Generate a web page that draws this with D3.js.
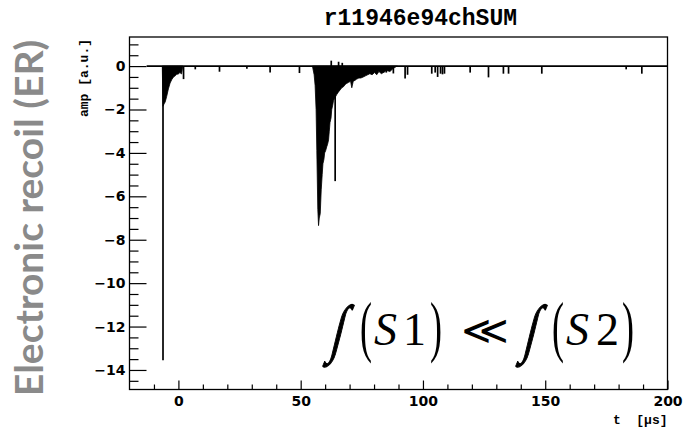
<!DOCTYPE html>
<html>
<head>
<meta charset="utf-8">
<script src="https://cdn.jsdelivr.net/npm/d3@7"></script>
<style>
  html, body { margin: 0; padding: 0; background: #fff; }
  svg { display: block; }
</style>
</head>
<body>
<svg id="chart" width="683" height="427"></svg>
<script>
// ---- data -------------------------------------------------------------
const histTitle = "r11946e94chSUM";
const xTitle = "t  [\u03bcs]";
const yTitle = "amp [a.u.]";
const sideLabel = "Electronic recoil (ER)";

const tDomain = [-20, 200];
const ampDomain = [-14.9, 1.34];
const xMajorTicks = [0, 50, 100, 150, 200];
const yMajorTicks = [0, -2, -4, -6, -8, -10, -12, -14];

// time span covered by the recorded waveform (baseline at 0)
const traceSpan = [-13, 200];

// S1 pulse: envelope of the dense fast-component ringing
const s1T   = [-6.6, -6.3, -5.9, -5.4, -4.8, -4.1, -3.4, -2.7, -2.0, -1.3, -0.7, 0.0, 0.6, 1.3, 1.8];
const s1Amp = [0, -1.85, -1.75, -1.65, -1.4, -1.05, -0.78, -0.62, -0.5, -0.45, -0.38, -0.36, -0.3, -0.36, 0];

// S2 pulse: envelope of the electroluminescence signal
const s2T = [54.8, 55.5, 55.9, 56.3, 56.6, 57.0, 57.3, 57.6, 58.0, 58.4, 58.8, 59.1, 59.5, 59.8,
             60.2, 60.7, 61.0, 61.4, 61.7, 62.0, 62.4, 62.7, 63.1, 63.4, 63.8, 64.3, 64.8, 65.4,
             66.1, 66.8, 67.5, 68.2, 68.8, 69.6, 70.4, 70.9, 71.5, 72.3, 72.9, 73.8, 74.6, 75.6,
             76.5, 77.4, 78.3, 79.2, 80.2, 81.1, 82.0, 83.0, 83.8, 85.0, 86.5, 87.9, 89.5];
const s2Amp = [0, -0.4, -0.9, -2.0, -3.9, -6.6, -7.35, -7.0, -6.8, -5.7, -5.0, -4.5, -4.3, -4.0,
               -3.9, -3.7, -3.6, -3.4, -3.0, -2.6, -2.4, -2.0, -1.8, -1.6, -1.5, -1.4, -1.3, -1.2,
               -1.1, -1.0, -0.95, -0.85, -0.8, -0.75, -0.7, -1.0, -0.7, -0.65, -0.6, -0.55, -0.55, -0.5,
               -0.45, -0.4, -0.35, -0.4, -0.3, -0.4, -0.25, -0.35, -0.3, -0.2, -0.25, -0.1, 0];

// isolated single-photon spikes and narrow needles
const spikeT   = [-6.3, 2.1, 6.9, 16.8, 28.0, 37.5, 49.5, 62.5, 64.1, 65.5, 67.0,
                  83.9, 85.0, 87.9, 92.7, 93.7, 103.6, 105.0, 106.0, 107.2, 108.0, 108.8,
                  119.3, 126.8, 132.9, 135.0, 148.6, 183.1, 189.5];
const spikeAmp = [-13.55, -0.6, -0.15, -0.26, -0.12, -0.3, -0.32, 0.25, -5.3, 0.2, 0.15,
                  -0.3, -0.3, -0.34, -0.57, -0.4, -0.35, -0.3, -0.5, -0.35, -0.38, -0.35,
                  -0.3, -0.52, -0.35, -0.35, -0.35, -0.15, -0.35];

// ---- layout -----------------------------------------------------------
const frame = { left: 129.5, right: 667.5, top: 37, bottom: 389.5 };

const svg = d3.select("#chart");

const x = d3.scaleLinear().domain(tDomain).range([frame.left, frame.right]);
const y = d3.scaleLinear().domain(ampDomain).range([frame.bottom, frame.top]);

// ---- waveform ---------------------------------------------------------
const plot = svg.append("g");

const area = d3.area()
  .x(d => x(d[0]))
  .y0(y(0))
  .y1(d => y(d[1]));

[d3.zip(s1T, s1Amp), d3.zip(s2T, s2Amp)].forEach(pulse => {
  plot.append("path")
    .datum(pulse)
    .attr("d", area)
    .attr("fill", "#000")
    .attr("stroke", "#000")
    .attr("stroke-width", 0.8);
});

plot.selectAll("line.spike")
  .data(d3.zip(spikeT, spikeAmp))
  .join("line")
  .attr("class", "spike")
  .attr("x1", d => x(d[0]))
  .attr("x2", d => x(d[0]))
  .attr("y1", y(0))
  .attr("y2", d => y(d[1]))
  .attr("stroke", "#000")
  .attr("stroke-width", 1.7);

plot.append("line")
  .attr("x1", x(traceSpan[0]))
  .attr("x2", x(traceSpan[1]))
  .attr("y1", y(0))
  .attr("y2", y(0))
  .attr("stroke", "#000")
  .attr("stroke-width", 1.6);

// ---- axes -------------------------------------------------------------
const tickFont = "DejaVu Sans, sans-serif";

const xMinor = d3.range(-10, 201, 10).filter(v => v % 50 !== 0);
svg.append("g")
  .attr("transform", `translate(0,${frame.bottom})`)
  .call(d3.axisBottom(x).tickValues(xMinor).tickSize(-5).tickFormat(""))
  .call(g => g.select(".domain").remove());
svg.append("g")
  .attr("transform", `translate(0,${frame.bottom})`)
  .call(d3.axisBottom(x).tickValues(xMajorTicks).tickSize(-9).tickPadding(7))
  .call(g => g.select(".domain").remove())
  .call(g => g.selectAll("text")
    .attr("font-family", tickFont).attr("font-weight", "bold")
    .attr("font-size", 14).attr("fill", "#000"));

const yMinor = d3.range(-14.5, 1.34, 0.5).filter(v => Math.abs(v % 2) > 1e-9);
svg.append("g")
  .attr("transform", `translate(${frame.left},0)`)
  .call(d3.axisLeft(y).tickValues(yMinor).tickSize(-9).tickFormat(""))
  .call(g => g.select(".domain").remove());
svg.append("g")
  .attr("transform", `translate(${frame.left},0)`)
  .call(d3.axisLeft(y).tickValues(yMajorTicks).tickSize(-17).tickPadding(4))
  .call(g => g.select(".domain").remove())
  .call(g => g.selectAll("text")
    .attr("font-family", tickFont).attr("font-weight", "bold")
    .attr("font-size", 14).attr("fill", "#000"));

svg.selectAll(".tick line").attr("stroke", "#000").attr("stroke-width", 1.2);

// frame
svg.append("rect")
  .attr("x", frame.left).attr("y", frame.top)
  .attr("width", frame.right - frame.left)
  .attr("height", frame.bottom - frame.top)
  .attr("fill", "none").attr("stroke", "#000").attr("stroke-width", 1.3);

// ---- titles -----------------------------------------------------------
const mono = "Liberation Mono, Courier New, monospace";

svg.append("text")
  .attr("x", 517).attr("y", 25)
  .attr("text-anchor", "end")
  .attr("font-family", mono).attr("font-weight", "bold")
  .attr("font-size", 23)
  .text(histTitle);

svg.append("text")
  .attr("x", frame.right).attr("y", 424)
  .attr("text-anchor", "end")
  .attr("font-family", mono).attr("font-weight", "bold")
  .attr("font-size", 13)
  .style("white-space", "pre")
  .text(xTitle);

svg.append("text")
  .attr("transform", `translate(88,${frame.top + 2}) rotate(-90)`)
  .attr("text-anchor", "end")
  .attr("font-family", mono).attr("font-weight", "bold")
  .attr("font-size", 13)
  .text(yTitle);

svg.append("text")
  .attr("transform", "translate(43,218) rotate(-90)")
  .attr("text-anchor", "middle")
  .attr("font-family", "Lato, sans-serif").attr("font-weight", 700)
  .attr("font-size", 39)
  .attr("fill", "#8a8a8a")
  .text(sideLabel);

// ---- formula: ∫(S1) ≪ ∫(S2) -----------------------------------------
const serif = "Liberation Serif, DejaVu Serif, serif";
const relFont = "DejaVu Sans ExtraLight, DejaVu Sans, sans-serif";
const formula = svg.append("g").attr("fill", "#000");
const pieces = [
  { s: "\u222B", x: 329, y: 350, size: 44, font: serif, style: "normal", weight: 400, sk: -14, sx: 1, sy: 1.45, sw: 0.9 },
  { s: "(", x: 360, y: 349, size: 36, font: serif, style: "normal", weight: 400, sk: 0, sx: 1, sy: 1.85, sw: 0 },
  { s: "S", x: 374, y: 345, size: 46, font: serif, style: "italic", weight: 400, sk: 0, sx: 1, sy: 1, sw: 0 },
  { s: "1", x: 403, y: 345, size: 46, font: serif, style: "normal", weight: 400, sk: 0, sx: 1, sy: 1, sw: 0 },
  { s: ")", x: 430, y: 349, size: 36, font: serif, style: "normal", weight: 400, sk: 0, sx: 1, sy: 1.85, sw: 0 },
  { s: "\u226A", x: 461, y: 344, size: 40, font: relFont, style: "normal", weight: 200, sk: 0, sx: 1.15, sy: 1, sw: 0 },
  { s: "\u222B", x: 522, y: 350, size: 44, font: serif, style: "normal", weight: 400, sk: -14, sx: 1, sy: 1.45, sw: 0.9 },
  { s: "(", x: 552, y: 349, size: 36, font: serif, style: "normal", weight: 400, sk: 0, sx: 1, sy: 1.85, sw: 0 },
  { s: "S", x: 566, y: 345, size: 46, font: serif, style: "italic", weight: 400, sk: 0, sx: 1, sy: 1, sw: 0 },
  { s: "2", x: 596, y: 345, size: 46, font: serif, style: "normal", weight: 400, sk: 0, sx: 1, sy: 1, sw: 0 },
  { s: ")", x: 622, y: 349, size: 36, font: serif, style: "normal", weight: 400, sk: 0, sx: 1, sy: 1.85, sw: 0 }
];
formula.selectAll("text")
  .data(pieces)
  .join("text")
  .attr("transform", d => `translate(${d.x},${d.y}) skewX(${d.sk}) scale(${d.sx},${d.sy})`)
  .attr("font-family", d => d.font)
  .attr("font-style", d => d.style)
  .attr("font-weight", d => d.weight)
  .attr("font-size", d => d.size)
  .attr("stroke", d => d.sw ? "#000" : "none")
  .attr("stroke-width", d => d.sw)
  .text(d => d.s);
</script>
</body>
</html>
